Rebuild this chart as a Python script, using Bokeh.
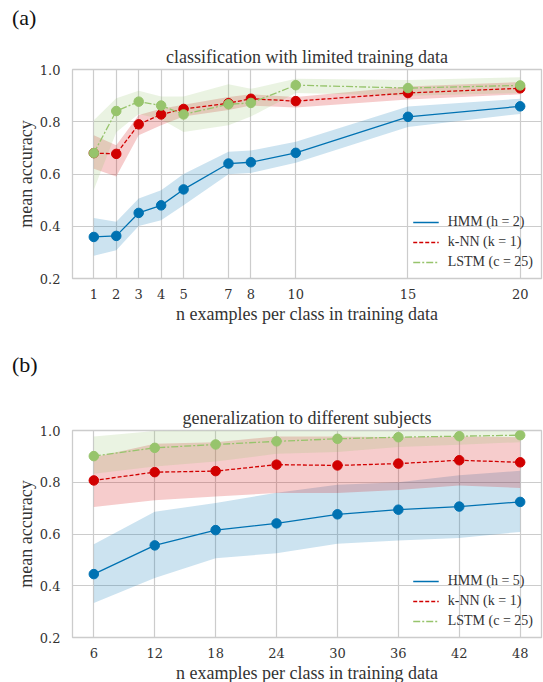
from bokeh.plotting import figure
from bokeh.layouts import column
from bokeh.models import (FixedTicker, PrintfTickFormatter, Range1d, Title, Legend,
                          LegendItem, Div)
from bokeh.embed import file_html
from bokeh.resources import INLINE

# ---------------- data: panel (a) ----------------
x_a = [1, 2, 3, 4, 5, 7, 8, 10, 15, 20]
hmm_a = [0.359, 0.363, 0.451, 0.480, 0.541, 0.640, 0.645, 0.681, 0.819, 0.859]
hmm_a_lo = [0.287, 0.308, 0.401, 0.423, 0.480, 0.599, 0.604, 0.643, 0.780, 0.830]
hmm_a_hi = [0.432, 0.417, 0.506, 0.538, 0.600, 0.685, 0.690, 0.723, 0.858, 0.888]
knn_a = [0.680, 0.677, 0.790, 0.828, 0.849, 0.871, 0.888, 0.879, 0.910, 0.928]
knn_a_lo = [0.620, 0.590, 0.748, 0.787, 0.820, 0.845, 0.862, 0.855, 0.885, 0.905]
knn_a_hi = [0.748, 0.710, 0.826, 0.850, 0.865, 0.895, 0.905, 0.895, 0.935, 0.952]
lstm_a = [0.680, 0.841, 0.877, 0.862, 0.828, 0.867, 0.872, 0.940, 0.929, 0.939]
lstm_a_lo = [0.540, 0.760, 0.830, 0.810, 0.761, 0.787, 0.820, 0.910, 0.900, 0.910]
lstm_a_hi = [0.806, 0.890, 0.919, 0.897, 0.897, 0.944, 0.926, 0.965, 0.960, 0.970]
xticks_a = [1, 2, 3, 4, 5, 7, 8, 10, 15, 20]
labels_a = ["HMM (h = 2)", "k-NN (k = 1)", "LSTM (c = 25)"]

# ---------------- data: panel (b) ----------------
x_b = [6, 12, 18, 24, 30, 36, 42, 48]
hmm_b = [0.445, 0.556, 0.615, 0.641, 0.676, 0.694, 0.706, 0.724]
hmm_b_lo = [0.333, 0.430, 0.506, 0.526, 0.562, 0.575, 0.585, 0.608]
hmm_b_hi = [0.560, 0.686, 0.720, 0.759, 0.790, 0.800, 0.827, 0.844]
knn_b = [0.807, 0.839, 0.843, 0.868, 0.865, 0.872, 0.885, 0.877]
knn_b_lo = [0.704, 0.730, 0.745, 0.758, 0.758, 0.770, 0.787, 0.778]
knn_b_hi = [0.897, 0.949, 0.955, 0.977, 0.977, 0.974, 0.977, 0.974]
lstm_b = [0.901, 0.933, 0.946, 0.958, 0.968, 0.974, 0.978, 0.982]
lstm_b_lo = [0.833, 0.861, 0.880, 0.910, 0.917, 0.936, 0.945, 0.955]
lstm_b_hi = [0.977, 0.998, 1.0, 1.0, 1.0, 1.0, 1.0, 1.0]
xticks_b = [6, 12, 18, 24, 30, 36, 42, 48]
labels_b = ["HMM (h = 5)", "k-NN (k = 1)", "LSTM (c = 25)"]

yticks = [0.2, 0.4, 0.6, 0.8, 1.0]
xlabel = "n examples per class in training data"
ylabel = "mean accuracy"

BLUE = "#0072b2"
RED = "#d10000"
GREEN = "#97c46c"
TXT = "#333333"
GRID = "#cccccc"
SERIF = "serif"
TICKFONT = "DejaVu Serif"


def tag_div(text, h):
    return Div(text=text, width=543, height=h, margin=(0, 0, 0, 0),
               styles={"font-family": "serif", "font-size": "22px", "line-height": f"{h}px",
                       "padding-left": "12px", "color": "#111111"})


def panel(x, series, labels, xticks, title, height, top, bottom):
    pad = (x[-1] - x[0]) * 0.05
    p = figure(width=543, height=height, output_backend="svg", toolbar_location=None,
               x_range=Range1d(x[0] - pad, x[-1] + pad), y_range=Range1d(0.2, 1.0),
               min_border_left=72, min_border_right=2, min_border_top=top,
               min_border_bottom=bottom, title=None)
    p.background_fill_color = "white"
    p.border_fill_color = "white"
    p.outline_line_color = GRID
    p.outline_line_width = 1.3
    p.xgrid.ticker = FixedTicker(ticks=xticks)
    p.ygrid.ticker = FixedTicker(ticks=yticks)
    for g in (p.xgrid, p.ygrid):
        g.grid_line_color = GRID
        g.grid_line_width = 1.2
    p.xaxis.ticker = FixedTicker(ticks=xticks)
    p.yaxis.ticker = FixedTicker(ticks=yticks)
    p.yaxis.formatter = PrintfTickFormatter(format="%.1f")
    for ax in (p.xaxis, p.yaxis):
        ax.axis_line_color = None
        ax.major_tick_line_color = None
        ax.minor_tick_line_color = None
        ax.major_label_text_font = TICKFONT
        ax.major_label_text_font_size = "13px"
        ax.major_label_text_color = TXT
    p.xaxis.major_label_standoff = 4
    p.yaxis.major_label_standoff = 6

    p.add_layout(Title(text=title, align="center", text_font=SERIF, text_font_size="18px",
                       text_font_style="normal", text_color=TXT, standoff=5), "above")
    p.add_layout(Title(text=xlabel, align="center", text_font=SERIF, text_font_size="18px",
                       text_font_style="normal", text_color=TXT, standoff=0), "below")
    p.add_layout(Title(text=ylabel, align="center", text_font=SERIF, text_font_size="18px",
                       text_font_style="normal", text_color=TXT, standoff=2), "left")

    colors = [BLUE, RED, GREEN]
    dashes = ["solid", "4 2", "7 2 2 2"]
    items = []
    for (y, lo, hi), c in zip(series, colors):
        p.varea(x=x, y1=lo, y2=hi, fill_color=c, fill_alpha=0.2)
    for (y, lo, hi), c, d, lab in zip(series, colors, dashes, labels):
        r = p.line(x, y, line_color=c, line_width=1.3, line_dash=d)
        p.scatter(x, y, size=9.5, fill_color=c, line_color=c)
        items.append(LegendItem(label=lab, renderers=[r]))
    leg = Legend(items=items, location="bottom_right", background_fill_alpha=0,
                 border_line_color=None, label_text_font=SERIF, label_text_font_size="14px",
                 label_text_color=TXT, glyph_width=26, glyph_height=14, spacing=4,
                 label_standoff=9, padding=2, margin=8, label_height=14)
    p.add_layout(leg)
    return p


pa = panel(x_a, [(hmm_a, hmm_a_lo, hmm_a_hi), (knn_a, knn_a_lo, knn_a_hi), (lstm_a, lstm_a_lo, lstm_a_hi)],
           labels_a, xticks_a, "classification with limited training data", 302, 33, 60)
pb = panel(x_b, [(hmm_b, hmm_b_lo, hmm_b_hi), (knn_b, knn_b_lo, knn_b_hi), (lstm_b, lstm_b_lo, lstm_b_hi)],
           labels_b, xticks_b, "generalization to different subjects", 290, 38, 44)

layout = column(tag_div("(a)", 36), pa, tag_div("(b)", 54), pb, spacing=0)
open("out.html", "w").write(file_html(layout, INLINE))
